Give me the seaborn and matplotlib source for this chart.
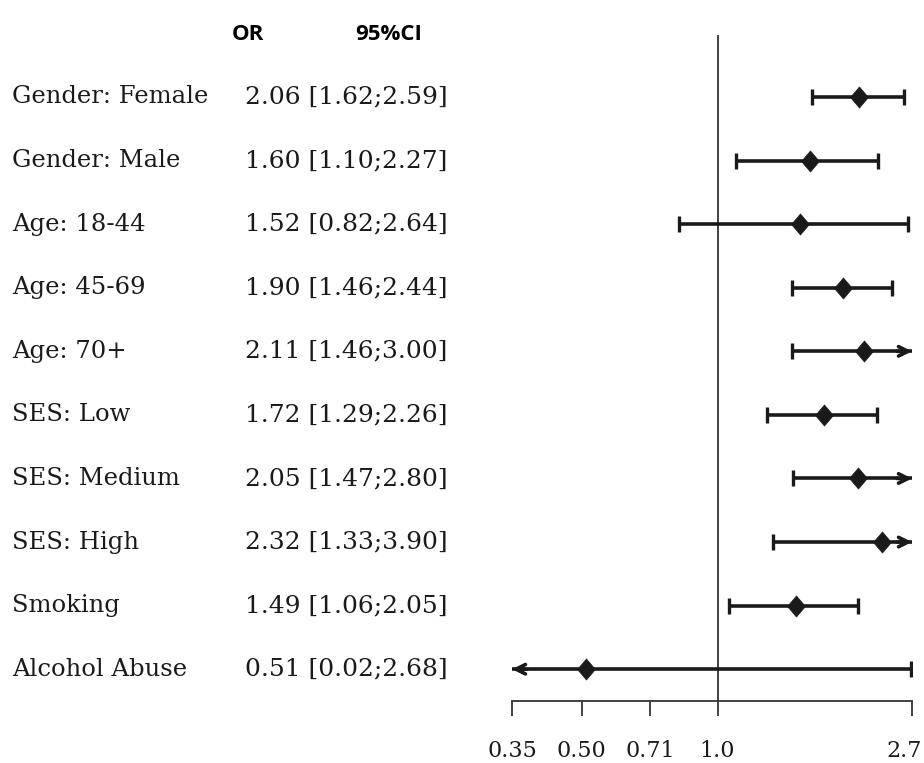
import numpy as np
import pandas as pd
import seaborn as sns
import matplotlib.pyplot as plt
from matplotlib.path import Path
from matplotlib.transforms import blended_transform_factory, ScaledTranslation

labels = ["Gender: Female", "Gender: Male", "Age: 18-44", "Age: 45-69", "Age: 70+",
          "SES: Low", "SES: Medium", "SES: High", "Smoking", "Alcohol Abuse"]
or_vals = [2.06, 1.60, 1.52, 1.90, 2.11, 1.72, 2.05, 2.32, 1.49, 0.51]
ci_lo = [1.62, 1.10, 0.82, 1.46, 1.46, 1.29, 1.47, 1.33, 1.06, 0.02]
ci_hi = [2.59, 2.27, 2.64, 2.44, 3.00, 2.26, 2.80, 3.90, 2.05, 2.68]
tick_vals = [0.35, 0.50, 0.71, 1.0, 2.7]
tick_labels = ["0.35", "0.50", "0.71", "1.0", "2.7"]

df = pd.DataFrame({"label": labels, "or": or_vals, "lo": ci_lo, "hi": ci_hi})
df["row"] = np.arange(len(df))

sns.set_style("ticks")
plt.rcParams["font.family"] = ["DejaVu Serif"]

xmin, xmax = tick_vals[0], tick_vals[-1]
ink = "#1a1a1a"

fig = plt.figure(figsize=(9.24, 7.63), dpi=100)
ax = fig.add_axes([512 / 924, 1 - 701 / 763, 400 / 924, 666 / 763])
ax.set_xscale("log")
ax.set_xlim(xmin, xmax)
ax.set_ylim(9.5, -0.975)

# reference line at OR = 1
ax.axvline(1.0, color="#333333", lw=1.3, zorder=1)

arrow_kw = dict(arrowstyle="->", lw=2.6, color=ink, mutation_scale=17, shrinkA=0, shrinkB=0)

# CI lines, caps, arrows for values beyond the axis
for _, r in df.iterrows():
    lo_c = max(r["lo"], xmin)
    hi_c = min(r["hi"], xmax)
    ax.hlines(r["row"], lo_c, hi_c, color=ink, lw=2.6, zorder=2, clip_on=False)
    if r["lo"] >= xmin:
        ax.plot(r["lo"], r["row"], marker="|", ms=11, mew=2.4, color=ink, zorder=2)
    else:
        ax.annotate("", xy=(xmin, r["row"]), xytext=(xmin * 1.08, r["row"]),
                    arrowprops=arrow_kw, annotation_clip=False)
    if r["hi"] <= xmax:
        ax.plot(r["hi"], r["row"], marker="|", ms=11, mew=2.4, color=ink, zorder=2)
    else:
        ax.annotate("", xy=(xmax, r["row"]), xytext=(xmax / 1.08, r["row"]),
                    arrowprops=arrow_kw, annotation_clip=False)

diamond = Path([(0, 1), (0.85, 0), (0, -1), (-0.85, 0), (0, 1)],
               [Path.MOVETO, Path.LINETO, Path.LINETO, Path.LINETO, Path.CLOSEPOLY])
sns.scatterplot(data=df, x="or", y="row", marker=diamond, s=230, color=ink,
                edgecolor=ink, linewidth=0.5, zorder=3, ax=ax, legend=False)

ax.set_xticks(tick_vals)
ax.set_xticklabels(tick_labels)
ax.minorticks_off()
ax.set_yticks([])
ax.set_xlabel("")
ax.set_ylabel("")
sns.despine(ax=ax, left=True, top=True, right=True)
ax.spines["bottom"].set_linewidth(1.3)
ax.spines["bottom"].set_color("#333333")
ax.tick_params(axis="x", direction="out", length=11, width=1.3, color="#333333",
               pad=17, labelsize=16, labelcolor=ink)
# keep the last tick label inside the figure
last = ax.get_xticklabels()[-1]
last.set_transform(last.get_transform() + ScaledTranslation(-8 / 100, 0, fig.dpi_scale_trans))

# text columns
tr = blended_transform_factory(fig.transFigure, ax.transData)
for _, r in df.iterrows():
    ax.text(12 / 924, r["row"], r["label"], transform=tr, ha="left", va="center",
            fontsize=17.5, color=ink)
    ax.text(245 / 924, r["row"], f"{r['or']:.2f} [{r['lo']:.2f};{r['hi']:.2f}]",
            transform=tr, ha="left", va="center", fontsize=18, color=ink)

fig.text(232 / 924, 1 - 35 / 763, "OR", ha="left", va="center", fontsize=16,
         fontweight="bold", family=["Open Sans", "DejaVu Sans"], color="black")
fig.text(355 / 924, 1 - 35 / 763, "95%CI", ha="left", va="center", fontsize=16,
         fontweight="bold", family=["Open Sans", "DejaVu Sans"], color="black")

fig.savefig("out.png", dpi=100)
